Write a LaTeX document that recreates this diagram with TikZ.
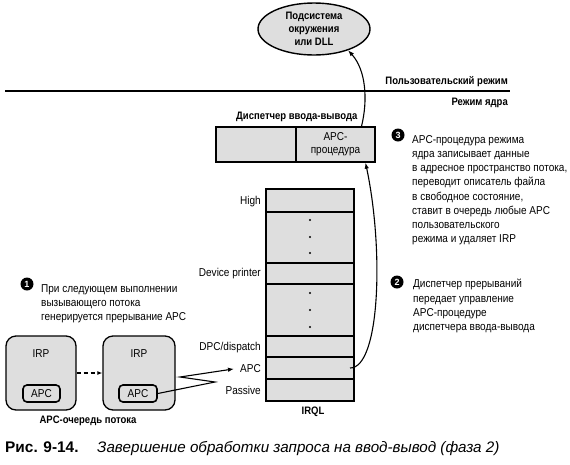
\documentclass[tikz,border=0pt]{standalone}
\usepackage{fontspec}
\setmainfont{Liberation Sans}
\newfontfamily\cf[FakeStretch=0.88]{Liberation Sans}
\usetikzlibrary{shapes.geometric,arrows.meta}
\definecolor{stip}{gray}{0.87}
\begin{document}
\begin{tikzpicture}[x=1pt,y=-1pt,
  txt/.style={font=\cf\fontsize{11.4}{14.2}\selectfont, inner sep=0pt, align=left},
  btxt/.style={font=\cf\bfseries\fontsize{10.8}{13}\selectfont, inner sep=0pt},
  cell/.style={draw, line width=1.4pt, fill=stip, minimum width=88pt, inner sep=0pt},
  num/.style={circle, fill=black, text=white, font=\bfseries\fontsize{9}{9}\selectfont, inner sep=0pt, minimum size=13pt},
  qbox/.style={draw, line width=1.3pt, fill=stip, rounded corners=10pt, minimum height=74pt, inner sep=0pt},
  abox/.style={draw, line width=1.6pt, fill=stip, rounded corners=4pt, minimum width=37pt, minimum height=17pt, inner sep=0pt, font=\cf\fontsize{11.4}{12}\selectfont},
  mbox/.style={draw, line width=1.3pt, fill=stip, minimum height=35pt, inner sep=0pt},
  conn/.style={line width=1.1pt},
  tip/.style={-{Latex[length=6pt,width=4.5pt]}}
]
\useasboundingbox (0,0) rectangle (570,464);

% environment subsystem
\node[ellipse, draw, line width=1.4pt, fill=stip, minimum width=112pt, minimum height=52pt, inner sep=0pt, align=center, font=\cf\bfseries\fontsize{10.8}{13}\selectfont] (env) at (314,29) {Подсистема\\окружения\\или DLL};

% mode separator
\coordinate (ml) at (5,91);
\coordinate (mr) at (510,91);
\draw[line width=2pt] (ml) -- (mr);
\node[btxt, anchor=base east] (umode) at (508,84) {Пользовательский режим};
\node[btxt, anchor=base east] (kmode) at (508,105) {Режим ядра};

% I/O manager box
\node[btxt, anchor=base west] (iotitle) at (236,119.5) {Диспетчер ввода-вывода};
\node[mbox, minimum width=80pt] (iol) at (256,144.5) {};
\node[mbox, minimum width=79pt, align=center, font=\cf\fontsize{11.4}{13}\selectfont] (apcproc) at (335.5,144.5) {APC-\\процедура};

% IRQL table
\node[cell, minimum height=23pt] (high) at (310,200.5) {};
\node[cell, minimum height=51pt] (dots1) at (310,237.5) {};
\node[cell, minimum height=21pt] (dev) at (310,273.5) {};
\node[cell, minimum height=52pt] (dots2) at (310,310) {};
\node[cell, minimum height=21pt] (dpc) at (310,346.5) {};
\node[cell, minimum height=22pt] (apc) at (310,368) {};
\node[cell, minimum height=22pt] (passive) at (310,390) {};
\foreach \yy in {220,237,253,293,310,327} \fill (310,\yy) circle (1.2);

\node[txt, anchor=base east] (lhigh) at (261,204.8) {High};
\node[txt, anchor=base east] (ldev) at (261,276.8) {Device printer};
\node[txt, anchor=base east] (ldpc) at (261,350.8) {DPC/dispatch};
\node[txt, anchor=base east] (lapc) at (261,372.8) {APC};
\node[txt, anchor=base east] (lpas) at (261,394.8) {Passive};
\node[btxt] (irql) at (313,412) {IRQL};

% steps
\node[num] (n3) at (398,135) {3};
\node[txt, anchor=north west] (t3) at (412,135.2) {APC-процедура режима\\ядра записывает данные\\в адресное пространство потока,\\переводит описатель файла\\в свободное состояние,\\ставит в очередь любые APC\\пользовательского\\режима и удаляет IRP};
\node[num] (n2) at (397,282) {2};
\node[txt, anchor=north west] (t2) at (413,279.2) {Диспетчер прерываний\\передает управление\\APC-процедуре\\диспетчера ввода-вывода};
\node[num] (n1) at (27,284) {1};
\node[txt, anchor=north west] (t1) at (41,284.2) {При следующем выполнении\\вызывающего потока\\генерируется прерывание APC};

% APC queue
\node[qbox, minimum width=70pt] (q1) at (41,373) {};
\node[qbox, minimum width=72pt] (q2) at (139,373) {};
\node[txt] (irp1) at (41,354) {IRP};
\node[txt] (irp2) at (139,354) {IRP};
\node[abox] (qa1) at (41.5,393.5) {APC};
\node[abox, minimum width=38pt] (qa2) at (138,393.5) {APC};
\node[btxt] (qlabel) at (88,421) {APC-очередь потока};

% connectors
\draw[conn, dash pattern=on 4pt off 3pt, -{Latex[length=5pt,width=4pt]}] (q1.east) -- (q2.west);
\coordinate (zz1) at (215,382);
\coordinate (zz2) at (180,377);
\draw[conn, tip] (qa2.east) -- (zz1) -- (zz2) -- ([xshift=-6pt]lapc.west);
\draw[conn, tip] ([xshift=40pt]apc.center) .. controls (380,368) and (384,250) .. ([xshift=30pt]apcproc.south);
\draw[conn, tip] ([xshift=26pt]apcproc.north) .. controls (368,100) and (366,70) .. (env.-32);

% caption
\node[anchor=base west, inner sep=0pt, font=\bfseries\fontsize{15.4}{16}\selectfont] (cap1) at (5,452) {Рис. 9-14.};
\node[anchor=base west, inner sep=0pt, font=\itshape\fontsize{15.2}{16}\selectfont] (cap2) at (97,452) {Завершение обработки запроса на ввод-вывод (фаза 2)};
\end{tikzpicture}
\end{document}
